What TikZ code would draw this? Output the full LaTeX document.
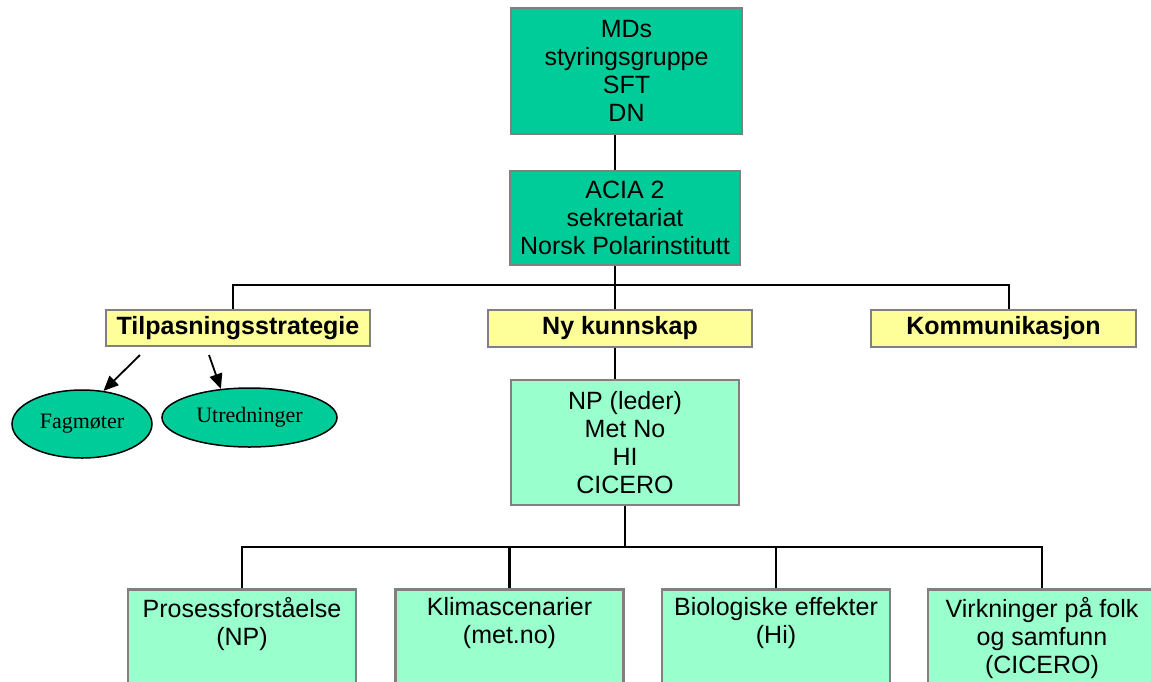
\documentclass[tikz,border=0pt]{standalone}
\usepackage{fontspec}
\setmainfont{Liberation Sans}
\newfontfamily\serifface{Liberation Serif}
\usetikzlibrary{shapes.geometric,arrows.meta}
\definecolor{dkgreen}{RGB}{0,204,153}
\definecolor{ltgreen}{RGB}{153,255,204}
\definecolor{ylw}{RGB}{255,255,153}
\definecolor{bordergray}{RGB}{128,128,128}
\tikzset{
 box/.style={draw=bordergray, line width=2.5pt, rectangle, inner sep=0pt, align=center, font=\fontsize{25}{27.8}\selectfont},
 topbox/.style={box, fill=dkgreen},
 membox/.style={box, fill=ltgreen},
 tagbox/.style={box, fill=ylw, font=\fontsize{25}{28}\selectfont\bfseries},
 oval/.style={ellipse, draw=black, line width=1.5pt, fill=dkgreen, inner sep=0pt, font=\serifface\fontsize{22}{26}\selectfont},
 conn/.style={draw=black, line width=2pt},
 thickconn/.style={draw=black, line width=2.8pt},
 arr/.style={draw=black, line width=1.8pt, -{Triangle[length=15pt,width=13pt]}},
 boxtext/.style={anchor=north, inner sep=0pt, align=center, font=\fontsize{25}{28}\selectfont}
}
\begin{document}
\begin{tikzpicture}[x=1pt,y=-1pt]
\clip (0,0) rectangle (1151,681);
\fill[white] (0,0) rectangle (1151,681);
% top boxes
\node[topbox, minimum width=231pt, minimum height=126pt] (md) at (626.5,71) {MDs\\styringsgruppe\\SFT\\DN};
\node[topbox, minimum width=230pt, minimum height=94pt] (acia) at (625,218) {ACIA 2\\sekretariat\\Norsk Polarinstitutt};
% tag boxes
\node[tagbox, minimum width=264pt, minimum height=36pt] (tilp) at (238,328) {Tilpasningsstrategie};
\node[tagbox, minimum width=264pt, minimum height=37pt] (ny) at (620,328.5) {Ny kunnskap};
\node[tagbox, minimum width=265pt, minimum height=37pt] (komm) at (1003.5,328.5) {Kommunikasjon};
% NP box
\node[membox, minimum width=228pt, minimum height=125pt] (np) at (625,442.5) {NP (leder)\\Met No\\HI\\CICERO};
% bottom boxes
\node[membox, minimum width=228pt, minimum height=140pt, anchor=north] (p1) at (242,588) {};
\node[membox, minimum width=228pt, minimum height=140pt, anchor=north] (p2) at (509.5,588) {};
\node[membox, minimum width=228pt, minimum height=140pt, anchor=north] (p3) at (776,588) {};
\node[membox, minimum width=228pt, minimum height=140pt, anchor=north] (p4) at (1042,588) {};
\node[boxtext] (t1) at ([yshift=-9pt]p1.north) {Prosessforståelse\\(NP)};
\node[boxtext] (t2) at ([yshift=-9pt]p2.north) {Klimascenarier\\(met.no)};
\node[boxtext] (t3) at ([yshift=-9pt]p3.north) {Biologiske effekter\\(Hi)};
\node[boxtext] (t4) at ([yshift=-9pt]p4.north) {Virkninger på folk\\og samfunn\\(CICERO)};
% ellipses
\node[oval, minimum width=140pt, minimum height=68pt] (fag) at (82,424) {Fagmøter};
\node[oval, minimum width=175pt, minimum height=59pt] (utr) at (249.5,417.5) {Utredninger};
% coordinates
\coordinate (spine) at (615,0);
\coordinate (b1) at (233,285);
\coordinate (b3) at (1009,285);
\coordinate (bb) at (0,547);
\coordinate (a1) at (140,355);
\coordinate (a2) at (209,355);
% connectors
\draw[conn] (md.south -| spine) -- (acia.north -| spine);
\draw[conn] (acia.south -| spine) -- (ny.north -| spine);
\draw[conn] (tilp.north -| b1) -- (b1) -- (b3) -- (komm.north -| b3);
\draw[conn] (ny.south -| spine) -- (np.north -| spine);
\draw[thickconn] (np.south) -- (np.south |- bb);
\draw[thickconn] (p1.north) -- (p1.north |- bb) -- (p4.north |- bb) -- (p4.north);
\draw[thickconn] (p2.north) -- (p2.north |- bb);
\draw[thickconn] (p3.north) -- (p3.north |- bb);
\draw[arr] (a1) -- (fag.57);
\draw[arr] (a2) -- (utr.135);
\end{tikzpicture}
\end{document}
